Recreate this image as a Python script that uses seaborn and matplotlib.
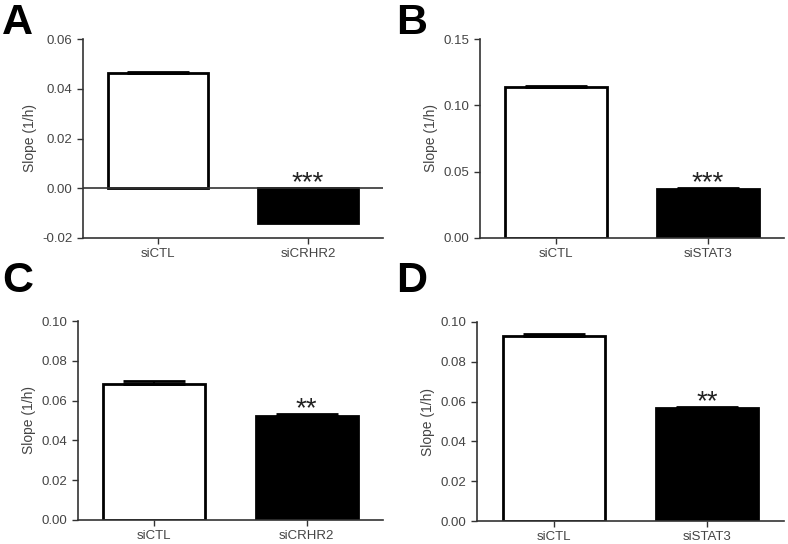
import matplotlib
matplotlib.use("Agg")
import matplotlib.pyplot as plt
import numpy as np
import pandas as pd
import seaborn as sns

sns.set_style("ticks")
plt.rcParams['font.family'] = ['Liberation Sans', 'DejaVu Sans']

# panel data
groups_a = ['siCTL', 'siCRHR2']
slope_a = [0.0462, -0.0140]
err_a = [0.0004, 0.0003]

groups_b = ['siCTL', 'siSTAT3']
slope_b = [0.1138, 0.0372]
err_b = [0.0004, 0.0003]

groups_c = ['siCTL', 'siCRHR2']
slope_c = [0.0684, 0.0521]
err_c = [0.0013, 0.0011]

groups_d = ['siCTL', 'siSTAT3']
slope_d = [0.0928, 0.0568]
err_d = [0.0014, 0.0005]

stars = ['***', '***', '**', '**']
letters = ['A', 'B', 'C', 'D']
ylims = [(-0.02, 0.06), (0, 0.15), (0, 0.10), (0, 0.10)]
yticks = [[-0.02, 0.0, 0.02, 0.04, 0.06],
          [0.0, 0.05, 0.10, 0.15],
          [0.0, 0.02, 0.04, 0.06, 0.08, 0.10],
          [0.0, 0.02, 0.04, 0.06, 0.08, 0.10]]

W, H = 788, 544
# axes boxes in pixels: left, top, right, bottom
boxes = [(83, 39, 383, 238), (480, 39, 784, 238),
         (78, 321, 383, 520), (477, 322, 784, 521)]
letter_pos = [(2, 3), (396, 3), (2, 261), (396, 261)]

txt = '#444444'
fig = plt.figure(figsize=(W / 100, H / 100), dpi=100)

panels = [(groups_a, slope_a, err_a), (groups_b, slope_b, err_b),
          (groups_c, slope_c, err_c), (groups_d, slope_d, err_d)]

for i, (groups, vals, errs) in enumerate(panels):
    l, t, r, b = boxes[i]
    ax = fig.add_axes([l / W, 1 - b / H, (r - l) / W, (b - t) / H])
    df = pd.DataFrame({'group': groups, 'slope': vals})
    sns.barplot(data=df, x='group', y='slope', hue='group',
                palette=['white', 'black'], edgecolor='black', linewidth=2,
                width=0.667, legend=False, ax=ax, errorbar=None)
    top = [v + e if v >= 0 else 0 for v, e in zip(vals, errs)]
    for x, v, e in zip(range(len(groups)), vals, errs):
        if v >= 0:
            ax.errorbar(x, v, yerr=[[0], [e]], color='black', capsize=22,
                        elinewidth=1.5, capthick=2, zorder=3)
    ax.set_xlim(-0.5, 1.5)
    ax.set_ylim(*ylims[i])
    ax.set_yticks(yticks[i])
    ax.set_yticklabels([f'{v:.2f}' for v in yticks[i]])
    if i == 0:
        ax.axhline(0, color='#333333', lw=1.2, zorder=4)
    ax.annotate(stars[i], (1, top[1]), xytext=(0, 13), textcoords='offset points',
                ha='center', va='top', fontsize=20, color='#222222')
    ax.set_xlabel('')
    ax.set_ylabel('Slope (1/h)', fontsize=10, color=txt)
    ax.tick_params(axis='both', labelsize=9.5, colors='#333333', labelcolor=txt,
                   length=4, width=1)
    for s in ['left', 'bottom']:
        ax.spines[s].set_color('#333333')
        ax.spines[s].set_linewidth(1.2)
    sns.despine(ax=ax)
    fig.text(letter_pos[i][0] / W, 1 - letter_pos[i][1] / H, letters[i],
             fontsize=31, fontweight='bold', va='top', ha='left', color='black')

fig.savefig('out.png', dpi=100)
